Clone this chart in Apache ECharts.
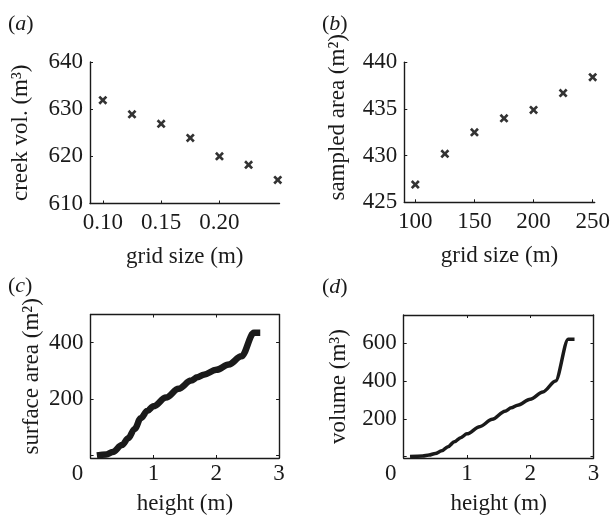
<!DOCTYPE html>
<html>
<head>
<meta charset="utf-8">
<script src="https://cdn.jsdelivr.net/npm/echarts@6/dist/echarts.min.js"></script>
<style>
  html, body { margin: 0; padding: 0; background: #fff; }
  #chart { width: 612px; height: 520px; }
</style>
</head>
<body>
<div id="chart"></div>
<script>
// Grid-size sensitivity (a, b) and hypsometry curves (c, d)
const gridSizeA = [0.1, 0.125, 0.15, 0.175, 0.2, 0.225, 0.25];
const creekVolume = [631.9, 628.9, 626.9, 623.9, 620.0, 618.2, 615.0];

const gridSizeB = [100, 125, 150, 175, 200, 225, 250];
const sampledArea = [426.9, 430.2, 432.5, 434.0, 434.9, 436.7, 438.4];

const heightC = [0.1, 0.25, 0.35, 0.5, 0.6, 0.7, 0.8, 0.9, 1.0, 1.2, 1.4, 1.6, 1.7, 1.8, 2.0, 2.2, 2.4, 2.6, 2.7];
const surfaceArea = [1, 4, 13, 38, 62, 95, 133, 158, 175, 206, 237, 266, 278, 287, 304, 323, 352, 435, 435];

const heightD = [0.1, 0.3, 0.4, 0.5, 0.6, 0.7, 0.8, 0.9, 1.0, 1.2, 1.4, 1.6, 1.7, 1.8, 2.0, 2.2, 2.4, 2.6, 2.7];
const volume = [0, 3, 8, 16, 30, 52, 78, 100, 120, 158, 197, 240, 258, 272, 303, 342, 400, 622, 622];

const ticksA = [0.1, 0.15, 0.2];
const ticksB = [100, 150, 200, 250];
const ticksCY = [0, 200, 400];
const labelsCY = [200, 400];
const ticksDY = [0, 200, 400, 600];
const labelsDY = [200, 400, 600];

const FONT = "'Liberation Serif', 'Times New Roman', serif";
const INK = '#1a1a1a';
const FS = 23;

const pairs = (xs, ys) => xs.map((x, i) => [x, ys[i]]);

// bold "x" marker
const CROSS = 'path://M0,2.1L2.1,0L5,2.9L7.9,0L10,2.1L7.1,5L10,7.9L7.9,10L5,7.1L2.1,10L0,7.9L2.9,5Z';

const line = { show: true, onZero: false, lineStyle: { color: INK, width: 1.4 } };
const tick = (vals) => ({ show: true, inside: true, length: 3, lineStyle: { color: INK, width: 1 }, customValues: vals });
const label = (extra) => Object.assign({ color: INK, fontFamily: FONT, fontSize: FS }, extra);
const nameStyle = (extra) => Object.assign({ color: INK, fontFamily: FONT, fontSize: FS }, extra);

const zeroShift = {
  formatter: v => (v === 0 ? '{z|0}' : String(v)),
  rich: { z: { fontFamily: FONT, fontSize: FS, color: INK, padding: [0, 26, 0, 0] } }
};

const option = {
  backgroundColor: '#fff',
  animation: false,
  grid: [
    { left: 90, top: 62, width: 189.5, height: 141.5, outerBoundsMode: 'none' },
    { left: 404.3, top: 62.3, width: 190.4, height: 140, outerBoundsMode: 'none' },
    { left: 90.6, top: 314.5, width: 188.5, height: 143.5, outerBoundsMode: 'none' },
    { left: 403.7, top: 315, width: 189.8, height: 143, outerBoundsMode: 'none' }
  ],
  xAxis: [
    {
      gridIndex: 0, type: 'value', min: 0.089, max: 0.2515, position: 'bottom',
      axisLine: line, axisTick: tick(ticksA), splitLine: { show: false },
      axisLabel: label({ margin: 8, customValues: ticksA, formatter: v => v.toFixed(2) }),
      name: 'grid size (m)', nameLocation: 'middle', nameGap: 42, nameTextStyle: nameStyle()
    },
    {
      gridIndex: 1, type: 'value', min: 90.7, max: 251.7, position: 'bottom',
      axisLine: line, axisTick: tick(ticksB), splitLine: { show: false },
      axisLabel: label({ margin: 8, customValues: ticksB }),
      name: 'grid size (m)', nameLocation: 'middle', nameGap: 42, nameTextStyle: nameStyle()
    },
    {
      gridIndex: 2, type: 'value', min: 0, max: 3, interval: 1, position: 'bottom',
      axisLine: line, axisTick: tick([1, 2]), splitLine: { show: false },
      axisLabel: label(Object.assign({ margin: 4 }, zeroShift)),
      name: 'height (m)', nameLocation: 'middle', nameGap: 34, nameTextStyle: nameStyle()
    },
    {
      gridIndex: 3, type: 'value', min: 0, max: 3, interval: 1, position: 'bottom',
      axisLine: line, axisTick: tick([1, 2]), splitLine: { show: false },
      axisLabel: label(Object.assign({ margin: 4 }, zeroShift)),
      name: 'height (m)', nameLocation: 'middle', nameGap: 34, nameTextStyle: nameStyle()
    },
    {
      gridIndex: 2, type: 'value', min: 0, max: 3, position: 'top',
      axisLine: line, axisTick: tick([1, 2]), axisLabel: { show: false }, splitLine: { show: false }
    },
    {
      gridIndex: 3, type: 'value', min: 0, max: 3, position: 'top',
      axisLine: line, axisTick: tick([1, 2]), axisLabel: { show: false }, splitLine: { show: false }
    }
  ],
  yAxis: [
    {
      gridIndex: 0, type: 'value', min: 610, max: 640, interval: 10,
      axisLine: line, axisTick: { show: true, inside: true, length: 3, lineStyle: { color: INK } },
      splitLine: { show: false }, axisLabel: label({ margin: 7 }),
      name: 'creek vol. (m³)', nameLocation: 'middle', nameRotate: 90, nameGap: 58,
      nameTextStyle: nameStyle()
    },
    {
      gridIndex: 1, type: 'value', min: 425, max: 440, interval: 5,
      axisLine: line, axisTick: { show: true, inside: true, length: 3, lineStyle: { color: INK } },
      splitLine: { show: false }, axisLabel: label({ margin: 7 }),
      name: 'sampled area (m²)', nameLocation: 'middle', nameRotate: 90, nameGap: 55,
      nameTextStyle: nameStyle({ padding: [0, 0, 0, 30] })
    },
    {
      gridIndex: 2, type: 'value', min: -8, max: 500,
      axisLine: line, axisTick: tick(ticksCY), splitLine: { show: false },
      axisLabel: label({ margin: 7, customValues: labelsCY }),
      name: 'surface area (m²)', nameLocation: 'middle', nameRotate: 90, nameGap: 47,
      nameTextStyle: nameStyle({ padding: [0, 0, 0, 20] })
    },
    {
      gridIndex: 3, type: 'value', min: -8, max: 750,
      axisLine: line, axisTick: tick(ticksDY), splitLine: { show: false },
      axisLabel: label({ margin: 7, customValues: labelsDY }),
      name: 'volume (m³)', nameLocation: 'middle', nameRotate: 90, nameGap: 53,
      nameTextStyle: nameStyle()
    },
    {
      gridIndex: 2, type: 'value', min: -8, max: 500, position: 'right',
      axisLine: line, axisTick: tick(ticksCY), axisLabel: { show: false }, splitLine: { show: false }
    },
    {
      gridIndex: 3, type: 'value', min: -8, max: 750, position: 'right',
      axisLine: line, axisTick: tick(ticksDY), axisLabel: { show: false }, splitLine: { show: false }
    }
  ],
  series: [
    {
      type: 'scatter', xAxisIndex: 0, yAxisIndex: 0, data: pairs(gridSizeA, creekVolume),
      symbol: CROSS, symbolSize: 9, itemStyle: { color: '#000' }
    },
    {
      type: 'scatter', xAxisIndex: 1, yAxisIndex: 1, data: pairs(gridSizeB, sampledArea),
      symbol: CROSS, symbolSize: 9, itemStyle: { color: '#000' }
    },
    {
      type: 'line', xAxisIndex: 2, yAxisIndex: 2, data: pairs(heightC, surfaceArea),
      showSymbol: false, smooth: 0.35, smoothMonotone: 'x',
      lineStyle: { color: INK, width: 6.5, join: 'round' }
    },
    {
      type: 'line', xAxisIndex: 3, yAxisIndex: 3, data: pairs(heightD, volume),
      showSymbol: false, smooth: 0.3, smoothMonotone: 'x',
      lineStyle: { color: INK, width: 3.5, join: 'round' }
    }
  ],
  graphic: [
    ['a', 8, 24], ['b', 322, 24], ['c', 8, 286], ['d', 322, 287]
  ].map(([t, x, y]) => ({
    type: 'text', x: x, y: y,
    style: {
      text: '({it|' + t + '})',
      fontFamily: FONT, fontSize: 22, fill: INK, verticalAlign: 'middle',
      rich: { it: { fontFamily: FONT, fontSize: 22, fontStyle: 'italic', fill: INK } }
    }
  }))
};

const chart = echarts.init(document.getElementById('chart'), null, { renderer: 'canvas' });
chart.setOption(option);
</script>
</body>
</html>
